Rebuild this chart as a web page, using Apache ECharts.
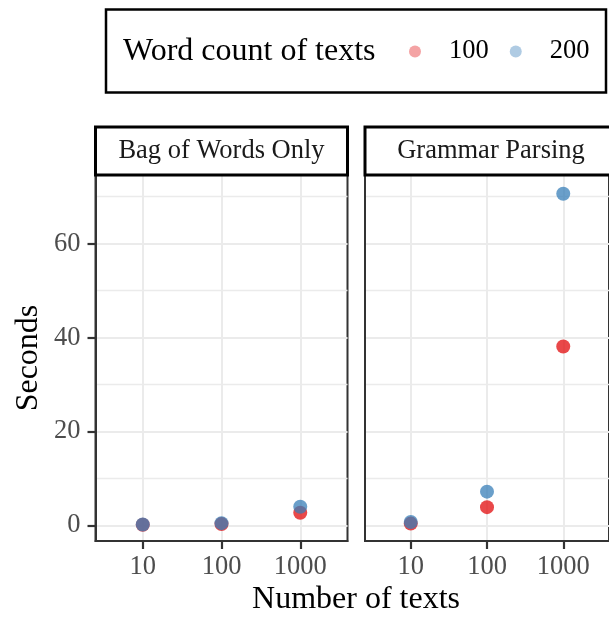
<!DOCTYPE html>
<html>
<head>
<meta charset="utf-8">
<script src="https://cdn.jsdelivr.net/npm/echarts@6/dist/echarts.min.js"></script>
<style>
html,body{margin:0;padding:0;background:#fff;}
#chart{width:609px;height:617px;}
</style>
</head>
<body>
<div id="chart"></div>
<script>
// ---- data ----
var textCounts = ['10', '100', '1000'];
var panels = ['Bag of Words Only', 'Grammar Parsing'];
var wordCounts = ['100', '200'];
var bowSecs100 = [0.15, 0.3, 2.7];
var bowSecs200 = [0.2, 0.5, 4.0];
var gramSecs100 = [0.4, 3.9, 38.1];
var gramSecs200 = [0.75, 7.2, 70.6];
var yMajorTicks = [0, 20, 40, 60];
var yMinorTicks = [10, 30, 50, 70];
var xTicks = [1, 2, 3];

var FONT = '"Liberation Serif", "Times New Roman", serif';
var SMALL = 26.5;
var RED = 'rgba(228,26,28,1)';
var BLUE = 'rgba(55,126,184,0.93)';
var RED_KEY = 'rgba(228,26,28,0.5)';
var BLUE_KEY = 'rgba(55,126,184,0.5)';

function toPts(vals) {
  return vals.map(function (v, i) { return [i + 1, v]; });
}

var chart = echarts.init(document.getElementById('chart'), null, {renderer: 'canvas'});

var gridTop = 175, gridH = 366, gridW = 252;
var gridLefts = [95.5, 365];
var yMin = -3.3, yMax = 74.6;

var grids = gridLefts.map(function (l) {
  return {left: l, top: gridTop, width: gridW, height: gridH, show: true,
    borderColor: '#333333', borderWidth: 2, backgroundColor: 'transparent', containLabel: false};
});

var xAxes = gridLefts.map(function (l, i) {
  return {
    type: 'value', gridIndex: i, min: 0.4, max: 3.6, position: 'bottom',
    axisLine: {show: true, onZero: false, lineStyle: {color: '#333333', width: 2}},
    axisTick: {show: true, inside: false, length: 8, customValues: xTicks, lineStyle: {color: '#333333', width: 2.2}},
    axisLabel: {show: true, customValues: xTicks, margin: 13,
      formatter: function (v) { return textCounts[Math.round(v) - 1] || ''; },
      fontFamily: FONT, fontSize: SMALL, color: '#4D4D4D'},
    splitLine: {show: true, lineStyle: {color: '#EBEBEB', width: 2}}
  };
});

var yAxes = [];
gridLefts.forEach(function (l, i) {
  yAxes.push({
    type: 'value', gridIndex: i, min: yMin, max: yMax, position: 'left',
    axisLine: {show: true, onZero: false, lineStyle: {color: '#333333', width: 2}},
    axisTick: {show: i === 0, inside: false, length: 8, customValues: yMajorTicks, lineStyle: {color: '#333333', width: 2.2}},
    axisLabel: {show: i === 0, customValues: yMajorTicks, margin: 15,
      fontFamily: FONT, fontSize: SMALL, color: '#4D4D4D'},
    splitLine: {show: true, lineStyle: {color: '#EBEBEB', width: 2}}
  });
  yAxes.push({
    type: 'value', gridIndex: i, min: yMin, max: yMax, position: 'left',
    axisLine: {show: false, onZero: false},
    axisTick: {show: false, customValues: yMinorTicks},
    axisLabel: {show: false, customValues: yMinorTicks},
    splitLine: {show: true, lineStyle: {color: '#EBEBEB', width: 1.3}}
  });
});

var seriesSets = [
  {name: wordCounts[0], g: 0, vals: bowSecs100, color: RED},
  {name: wordCounts[1], g: 0, vals: bowSecs200, color: BLUE},
  {name: wordCounts[0], g: 1, vals: gramSecs100, color: RED},
  {name: wordCounts[1], g: 1, vals: gramSecs200, color: BLUE}
];

var series = seriesSets.map(function (s) {
  return {
    type: 'scatter', name: s.name, xAxisIndex: s.g, yAxisIndex: s.g * 2,
    data: toPts(s.vals), symbol: 'circle', symbolSize: 14,
    itemStyle: {color: s.color}, z: 3, silent: true
  };
});

var graphics = [
  {type: 'rect', shape: {x: 106, y: 9.5, width: 500, height: 83}, style: {fill: '#fff', stroke: '#000', lineWidth: 2.5}, z: 0},
  {type: 'text', x: 123, y: 52, style: {text: 'Word count of texts', font: '32px ' + FONT, fill: '#000', textAlign: 'left', textVerticalAlign: 'middle'}, z: 1},
  {type: 'text', x: 356, y: 600, style: {text: 'Number of texts', font: '32px ' + FONT, fill: '#000', textAlign: 'center', textVerticalAlign: 'middle'}},
  {type: 'text', x: 29, y: 358, rotation: Math.PI / 2, style: {text: 'Seconds', font: '32px ' + FONT, fill: '#000', textAlign: 'center', textVerticalAlign: 'middle'}}
];
gridLefts.forEach(function (l, i) {
  graphics.push({type: 'rect', shape: {x: l, y: 127, width: gridW, height: 48}, style: {fill: '#fff', stroke: '#000', lineWidth: 3}, z: 5});
  graphics.push({type: 'text', x: l + gridW / 2, y: 151, style: {text: panels[i], font: SMALL + 'px ' + FONT, fill: '#1A1A1A', textAlign: 'center', textVerticalAlign: 'middle'}, z: 6});
});

chart.setOption({
  animation: false,
  backgroundColor: '#fff',
  grid: grids,
  xAxis: xAxes,
  yAxis: yAxes,
  legend: {
    show: true, left: 409, top: 38, padding: 0, itemGap: 21,
    itemWidth: 12, itemHeight: 12, icon: 'circle', selectedMode: false,
    data: [
      {name: wordCounts[0], itemStyle: {color: RED_KEY}},
      {name: wordCounts[1], itemStyle: {color: BLUE_KEY}}
    ],
    textStyle: {fontFamily: FONT, fontSize: SMALL, color: '#000', padding: [0, 0, 0, 23]},
    z: 4
  },
  graphic: graphics,
  series: series
});
</script>
</body>
</html>
